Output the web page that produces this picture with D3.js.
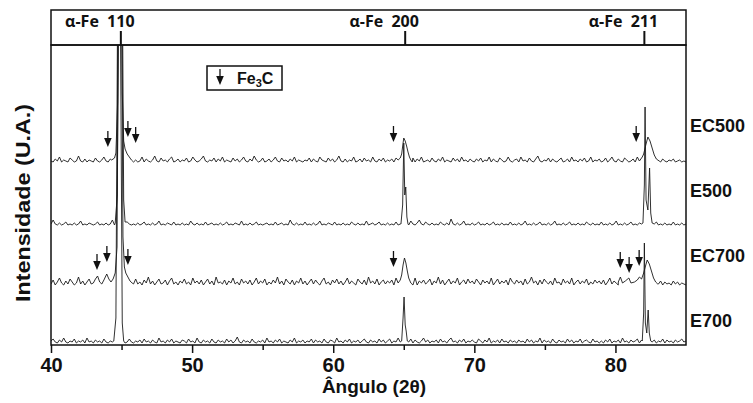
<!DOCTYPE html>
<html>
<head>
<meta charset="utf-8">
<script src="https://cdn.jsdelivr.net/npm/d3@7/dist/d3.min.js"></script>
<style>
  body { margin: 0; background: #fff; }
  svg { display: block; }
  .lbl { font-family: "Liberation Sans", Arial, sans-serif; font-weight: bold; fill: #111; }
  .top { font-family: "Open Sans", sans-serif; font-weight: bold; fill: #111; }
</style>
</head>
<body>
<svg id="chart" width="753" height="403"></svg>
<script>
// 数据：2θ 范围、各样品名、基线偏移（强度单位）
const samples   = ['EC500', 'E500', 'EC700', 'E700'];
const offsets   = [182, 120, 58, 2];
const majorTicks = [40, 50, 60, 70, 80];
const minorTicks = [45, 55, 65, 75];
const refPeaks  = [{ hkl: '110', x: 44.95 }, { hkl: '200', x: 65.1 }, { hkl: '211', x: 82.05 }];

// 背景噪声（从 40° 到 85° 等间距读取）
const noiseEC500 = [
  2,1,4,2,6,1,3,2,1,5,3,1,2,7,2,1,4,1,3,2,
  1,5,2,1,3,6,2,1,4,1,2,3,1,6,2,4,1,2,5,1,
  3,1,2,6,1,4,2,1,3,7,2,1,5,2,3,1,4,6,1,2,
  4,1,3,2,5,1,2,6,3,1,2,4,7,2,1,3,2,5,1,4,
  2,6,1,3,2,1,5,2,4,1,3,6,2,1,4,2,7,3,1,2,
  5,1,2,4,1,3,6,2,1,5,2,3,1,4,2,6,1,3,2,1,
  3,2,5,1,4,2,1,6,3,2,1,5,2,4,1,3,7,2,1,4,
  1,3,2,6,1,2,4,1,5,2,3,1,6,2,1,4,2,5,1,3,
  2,4,1,5,3,1,2,7,1,3,2,5,1,4,2,6,1,2,3,1,
  5,2,1,4,2,6,1,3,2,1,5,2,4,1,6,2,3,1,4,2,
  1,4,2,5,1,3,2,6,1,4,2,1,5,3,1,2,6,2,1,3,
  4,1,6,2,3,1,5,2,1,4,7,2,1,3,2,5,1,4,2,1,
  3,5,1,2,4,1,6,2,3,1,4,2,5,1,2,6,1,3,2,4,
  1,2,5,1,3,6,2,1,4,2,1,5,3,1,2,4,1,6,2,1,
  3,1,4,2,1,5,2,3,1,4,2,1,3,2,4,1,2,3,1,2,1
];
const noiseE500 = [
  1,5,1,0,2,0,1,3,0,1,0,2,0,1,4,0,1,0,2,1,
  0,1,3,0,1,0,2,0,1,5,0,1,2,0,1,0,3,1,0,1,
  0,2,0,1,3,0,1,0,2,0,1,4,0,1,0,2,1,0,3,0,
  1,0,2,0,1,0,4,1,0,2,0,1,0,3,0,1,2,0,1,0,
  2,0,1,3,0,1,0,2,1,0,4,0,1,0,2,0,1,3,0,1,
  0,1,2,0,1,0,3,0,1,2,0,1,0,5,1,0,2,0,1,0,
  3,0,1,0,2,0,1,4,0,1,0,2,1,0,3,0,1,0,2,0,
  1,0,3,1,0,2,0,1,0,4,0,1,2,0,1,3,0,1,0,2,
  0,1,0,3,0,1,2,0,1,0,4,1,0,2,5,1,0,3,1,0,
  2,0,1,0,3,1,0,2,0,6,1,0,2,0,1,4,0,1,0,2,
  0,1,3,0,1,0,2,0,1,3,0,1,0,2,0,1,0,3,0,1,
  0,2,0,1,4,0,1,0,2,0,1,3,0,1,0,2,0,1,4,0,
  1,0,2,0,1,3,0,1,0,2,0,1,0,3,1,0,2,0,1,0,
  3,0,1,0,2,0,1,4,0,1,0,2,0,1,3,0,1,0,2,1,
  0,1,0,2,0,1,3,0,1,0,2,0,1,0,3,0,1,0,2,0,1
];
const noiseEC700 = [
  3,7,2,5,9,4,2,6,3,8,5,2,4,10,3,6,2,5,8,3,
  6,2,9,4,3,7,2,5,3,8,4,2,6,3,9,5,2,7,4,3,
  8,3,5,2,7,4,10,3,6,2,5,8,3,4,7,2,6,9,3,5,
  2,6,4,8,3,5,2,9,4,6,3,7,2,5,8,3,6,2,10,4,
  5,3,7,2,6,4,9,3,5,2,8,4,6,3,7,2,5,9,3,6,
  4,8,2,5,3,7,4,10,3,6,2,8,5,3,7,2,6,4,9,3,
  6,2,5,8,3,7,4,2,6,9,3,5,2,7,4,8,3,6,2,5,
  9,3,6,4,2,8,5,3,7,2,10,4,6,3,8,2,5,7,3,6,
  4,7,2,9,5,3,6,2,8,4,5,3,9,2,6,4,7,3,5,8,
  2,6,4,10,3,7,2,5,8,3,6,4,9,2,5,7,3,8,4,6,
  3,8,5,2,7,4,6,3,9,2,5,8,3,6,4,7,2,9,5,3,
  7,4,6,2,8,3,5,10,4,6,2,7,3,8,5,3,6,2,9,4,
  5,2,8,4,6,3,9,2,5,7,3,6,4,8,2,5,3,7,4,6,
  3,7,2,5,9,3,6,4,2,7,5,3,8,2,6,4,3,7,2,5,
  4,6,3,5,2,7,4,3,6,2,5,3,4,2,6,3,5,2,4,3,2
];
const noiseE700 = [
  2,4,1,0,3,1,5,1,0,2,1,4,0,2,1,3,0,5,1,2,
  0,3,1,2,0,4,1,0,2,1,5,0,2,1,3,0,1,4,1,0,
  2,1,3,0,4,1,2,0,3,1,0,5,1,2,0,3,1,4,0,2,
  1,0,3,2,0,4,1,2,0,5,1,0,3,1,2,0,4,1,0,3,
  1,2,0,4,1,3,0,2,6,1,0,3,1,2,0,4,1,0,2,1,
  3,0,5,1,2,0,3,1,4,0,2,1,0,3,1,5,0,2,1,3,
  0,2,1,4,0,3,1,2,0,4,1,0,3,2,0,5,1,2,0,3,
  1,4,0,2,1,3,0,2,4,1,0,3,1,2,0,4,1,3,0,2,
  4,0,2,1,5,1,3,0,2,1,4,0,3,1,0,2,5,1,3,0,
  2,1,3,0,4,1,2,0,3,5,1,2,0,3,1,4,0,2,1,3,
  1,0,4,2,0,3,1,5,0,2,1,3,0,4,1,2,0,3,1,2,
  0,3,1,2,0,4,1,3,0,2,1,5,0,3,1,2,0,4,1,0,
  3,1,2,0,4,1,3,0,2,1,4,0,2,3,1,0,4,1,2,0,
  2,0,3,1,4,0,2,1,3,0,5,1,2,0,3,1,2,4,0,3,
  1,4,0,2,1,3,0,2,1,4,0,3,1,2,0,3,1,2,4,1,2
];

// 衍射峰轮廓 [2θ, 强度]
const peaksEC500 = [
  [[44.3,3],[44.5,5],[44.6,10],[44.72,60],[44.82,420],[44.95,440],[45.05,70],[45.15,22],[45.25,14],[45.4,9],[45.55,6],[45.7,3]],
  [[64.6,3],[64.75,5],[64.85,9],[64.95,20],[65.0,25],[65.1,22],[65.2,17],[65.3,11],[65.4,6],[65.5,3],[65.6,1]],
  [[81.75,3],[81.9,6],[82.0,9],[82.15,18],[82.3,26],[82.45,22],[82.6,15],[82.75,8],[82.9,4],[83.1,2]]
];
const peaksE500 = [
  [[44.55,2],[44.7,30],[44.88,420],[44.98,430],[45.15,25],[45.25,3]],
  [[64.8,1],[64.92,20],[65.0,82],[65.07,30],[65.14,38],[65.22,8],[65.3,1]],
  [[81.95,2],[82.05,40],[82.1,118],[82.17,25],[82.3,15],[82.42,57],[82.5,12],[82.6,2]]
];
const peaksEC700 = [
  [[43.0,4],[43.15,8],[43.3,11],[43.45,5],[43.6,3],[43.75,7],[43.95,13],[44.1,8],[44.25,5],[44.4,8],[44.55,14],[44.68,40],
   [44.82,420],[44.95,430],[45.1,50],[45.2,20],[45.3,14],[45.45,10],[45.6,6],[45.75,4]],
  [[64.6,4],[64.75,7],[64.85,12],[64.95,22],[65.05,29],[65.15,24],[65.25,16],[65.35,9],[65.5,4],[65.65,2]],
  [[80.2,5],[80.35,10],[80.5,4],[80.7,6],[80.95,9],[81.1,4],[81.35,5],[81.55,7],[81.7,10],[81.85,8],[82.0,14],
   [82.15,22],[82.25,27],[82.4,23],[82.55,16],[82.7,9],[82.85,5],[83.0,3]]
];
const peaksE700 = [
  [[44.45,2],[44.6,25],[44.75,420],[44.88,420],[45.05,20],[45.15,2]],
  [[64.85,2],[64.95,25],[65.02,46],[65.1,18],[65.17,12],[65.25,2]],
  [[81.9,2],[82.0,30],[82.05,100],[82.12,20],[82.22,10],[82.32,33],[82.4,10],[82.5,2]]
];

// Fe3C 标记 [2θ, 箭头尖端强度]
const fe3cEC500 = [[44.03,16],[45.45,26],[46.0,20],[64.27,21],[81.47,21]];
const fe3cEC700 = [[43.26,17],[43.96,25],[45.45,22],[64.27,20],[80.34,19],[80.97,14],[81.68,21]];

const noises = [noiseEC500, noiseE500, noiseEC700, noiseE700];
const peaks  = [peaksEC500, peaksE500, peaksEC700, peaksE700];
const marks  = [fe3cEC500, null, fe3cEC700, null];

// 画布
const svg = d3.select('#chart');
const L = 51, R = 686, T = 45, B = 345;
const x = d3.scaleLinear().domain([40, 85]).range([L, R]);
const y = d3.scaleLinear().domain([0, 300]).range([B, T]);

svg.append('clipPath').attr('id', 'clip')
  .append('rect').attr('x', L).attr('y', T).attr('width', R - L).attr('height', B - T);

const line = d3.line().x(d => x(d[0])).y(d => y(d[1]));

samples.forEach((name, i) => {
  const noise = noises[i];
  const step = 45 / (noise.length - 1);
  const groups = peaks[i];
  let pts = noise.map((v, k) => [40 + k * step, v])
    .filter(p => !groups.some(g => p[0] >= g[0][0] && p[0] <= g[g.length - 1][0]));
  groups.forEach(g => { pts = pts.concat(g); });
  pts.sort((a, b) => a[0] - b[0]);
  pts = pts.map(p => [p[0], p[1] + offsets[i]]);

  svg.append('path')
    .datum(pts)
    .attr('clip-path', 'url(#clip)')
    .attr('fill', 'none')
    .attr('stroke', '#1a1a1a')
    .attr('stroke-width', 0.9)
    .attr('d', line);
});

// 箭头
function arrow(g, px, tip) {
  g.append('line').attr('x1', px).attr('x2', px).attr('y1', tip - 16).attr('y2', tip - 6)
    .attr('stroke', '#111').attr('stroke-width', 1.3);
  g.append('path').attr('d', `M${px - 3.8},${tip - 9}L${px + 3.8},${tip - 9}L${px},${tip}Z`).attr('fill', '#111');
}
const arrowG = svg.append('g');
marks.forEach((m, i) => {
  if (!m) return;
  m.forEach(d => arrow(arrowG, x(d[0]), y(d[1] + offsets[i])));
});

// 边框
svg.append('rect').attr('x', L).attr('y', T).attr('width', R - L).attr('height', B - T)
  .attr('fill', 'none').attr('stroke', '#111').attr('stroke-width', 1.5);
svg.append('rect').attr('x', L).attr('y', 10).attr('width', R - L).attr('height', T - 10)
  .attr('fill', 'none').attr('stroke', '#111').attr('stroke-width', 1.5);

// 顶部 α-Fe 参考线
const topG = svg.append('g');
refPeaks.forEach(p => {
  const px = x(p.x);
  topG.append('line').attr('x1', px).attr('x2', px).attr('y1', 31).attr('y2', T)
    .attr('stroke', '#111').attr('stroke-width', 2);
  topG.append('text').attr('class', 'top').attr('x', px).attr('y', 27)
    .attr('text-anchor', 'middle').attr('font-size', 16).text(p.hkl);
  topG.append('text').attr('class', 'top').attr('x', px - 22).attr('y', 27)
    .attr('text-anchor', 'end').attr('font-size', 16).text('α-Fe');
});

// x 轴
const axisG = svg.append('g').attr('transform', `translate(0,${B})`);
axisG.call(d3.axisBottom(x).tickValues(majorTicks).tickSize(8).tickPadding(5).tickFormat(d3.format('d')));
axisG.select('.domain').remove();
axisG.selectAll('.tick line').attr('stroke', '#111').attr('stroke-width', 1.5);
axisG.selectAll('.tick text').attr('class', 'lbl').attr('font-size', 20);
const minorG = svg.append('g').attr('transform', `translate(0,${B})`);
minorG.call(d3.axisBottom(x).tickValues(minorTicks).tickSize(5).tickFormat(''));
minorG.select('.domain').remove();
minorG.selectAll('.tick line').attr('stroke', '#111').attr('stroke-width', 1.5);

svg.append('text').attr('class', 'lbl').attr('x', 374).attr('y', 393)
  .attr('text-anchor', 'middle').attr('font-size', 19).text('Ângulo (2θ)');
svg.append('text').attr('class', 'lbl')
  .attr('transform', 'translate(30,203) rotate(-90)')
  .attr('text-anchor', 'middle').attr('font-size', 20)
  .attr('textLength', 198).attr('lengthAdjust', 'spacingAndGlyphs')
  .text('Intensidade (U.A.)');

// 样品标签
const labelDy = [-31, -28, -25, -16];
samples.forEach((name, i) => {
  svg.append('text').attr('class', 'lbl').attr('x', 690).attr('y', y(offsets[i]) + labelDy[i])
    .attr('font-size', 18).text(name);
});

// 图例
const leg = svg.append('g');
leg.append('rect').attr('x', 207).attr('y', 66).attr('width', 75).attr('height', 24)
  .attr('fill', '#fff').attr('stroke', '#111').attr('stroke-width', 1.5);
arrow(leg, 220, 85);
const lt = leg.append('text').attr('class', 'lbl').attr('x', 237).attr('y', 84).attr('font-size', 16);
lt.append('tspan').text('Fe');
lt.append('tspan').attr('font-size', 11).attr('dy', 3).text('3');
lt.append('tspan').attr('dy', -3).text('C');
</script>
</body>
</html>
